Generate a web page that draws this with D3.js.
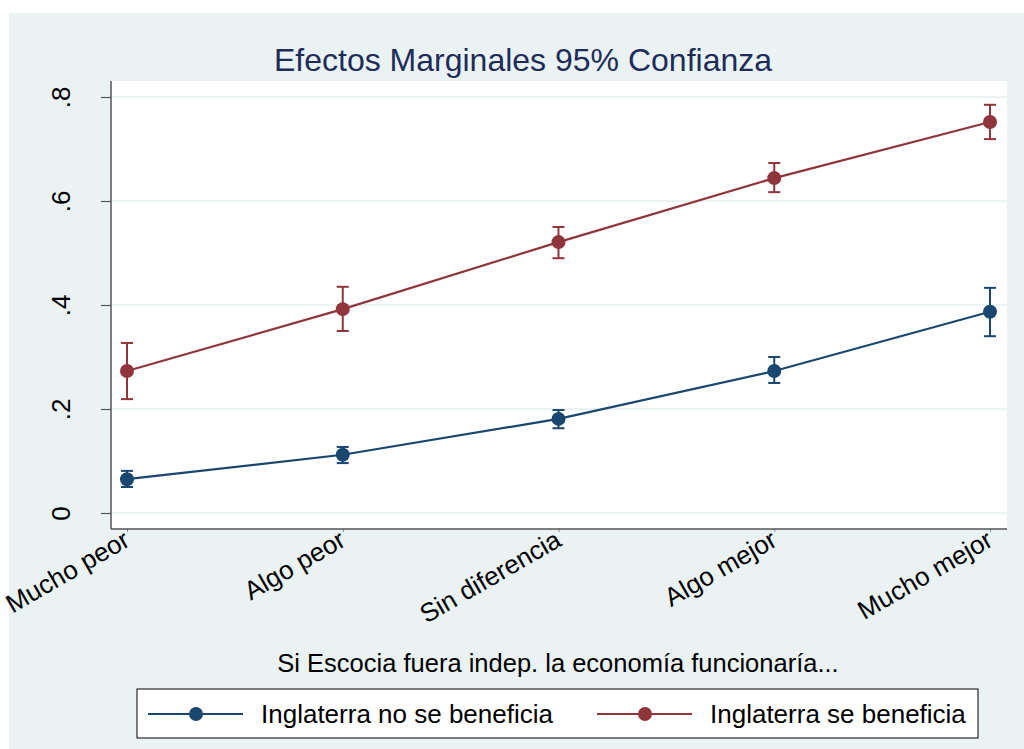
<!DOCTYPE html>
<html>
<head>
<meta charset="utf-8">
<script src="https://cdn.jsdelivr.net/npm/d3@7"></script>
<style>
  html, body { margin: 0; padding: 0; background: #fff; }
  svg { display: block; font-family: Arial, "Liberation Sans", sans-serif; }
</style>
</head>
<body>
<svg id="chart" width="1024" height="749"></svg>
<script>
// categories on the x axis
var categories = ['Mucho peor', 'Algo peor', 'Sin diferencia', 'Algo mejor', 'Mucho mejor'];

// Inglaterra no se beneficia
var noBenefit = [0.065, 0.112, 0.181, 0.273, 0.387];
var noBenefitLo = [0.050, 0.096, 0.163, 0.250, 0.340];
var noBenefitHi = [0.081, 0.127, 0.198, 0.300, 0.433];

// Inglaterra se beneficia
var benefit = [0.273, 0.392, 0.521, 0.644, 0.752];
var benefitLo = [0.219, 0.350, 0.490, 0.617, 0.719];
var benefitHi = [0.327, 0.435, 0.550, 0.673, 0.785];

var yTicks = [0, 0.2, 0.4, 0.6, 0.8];
var yTickLabels = ['0', '.2', '.4', '.6', '.8'];

var seriesNames = ['Inglaterra no se beneficia', 'Inglaterra se beneficia'];
var seriesColors = ['#1a476f', '#90353b'];

var svg = d3.select('#chart');

// outer graph region
svg.append('rect')
  .attr('x', 9).attr('y', 13)
  .attr('width', 1024 - 9).attr('height', 749 - 13)
  .attr('fill', '#eaf2f3');

var plot = { left: 111, right: 1007, top: 81, bottom: 529 };

svg.append('rect')
  .attr('x', plot.left).attr('y', plot.top)
  .attr('width', plot.right - plot.left).attr('height', plot.bottom - plot.top)
  .attr('fill', '#ffffff');

var x = d3.scalePoint()
  .domain(categories)
  .range([127, 990]);

var y = d3.scaleLinear()
  .domain([0, 0.8])
  .range([513, 97]);

// grid lines
svg.append('g')
  .selectAll('line')
  .data(yTicks)
  .enter().append('line')
  .attr('x1', plot.left).attr('x2', plot.right)
  .attr('y1', function (d) { return y(d); })
  .attr('y2', function (d) { return y(d); })
  .attr('stroke', '#eaf2f3')
  .attr('stroke-width', 2);

// y axis
var yAxis = svg.append('g')
  .attr('transform', 'translate(' + plot.left + ',0)')
  .call(d3.axisLeft(y).tickValues(yTicks).tickSize(10).tickPadding(0)
    .tickFormat(function (d, i) { return yTickLabels[i]; }));
yAxis.select('.domain').remove();
yAxis.selectAll('.tick line').attr('stroke', '#555').attr('stroke-width', 1.2);
yAxis.selectAll('.tick text')
  .attr('font-size', 26)
  .attr('fill', '#000')
  .attr('text-anchor', 'middle')
  .attr('transform', 'translate(-41,0) rotate(-90)')
  .attr('x', 0)
  .attr('dy', 0);

svg.append('line')
  .attr('x1', plot.left).attr('x2', plot.left)
  .attr('y1', plot.top).attr('y2', plot.bottom)
  .attr('stroke', '#555').attr('stroke-width', 1.5);

// x axis
var xAxis = svg.append('g')
  .attr('transform', 'translate(0,' + plot.bottom + ')')
  .call(d3.axisBottom(x).tickSize(3).tickPadding(0));
xAxis.select('.domain').remove();
xAxis.selectAll('.tick line').attr('stroke', '#888');
xAxis.selectAll('.tick text')
  .attr('font-size', 26)
  .attr('fill', '#000')
  .attr('text-anchor', 'end')
  .attr('y', 0)
  .attr('dy', 0)
  .attr('transform', 'translate(4,16) rotate(-30)');

svg.append('line')
  .attr('x1', plot.left).attr('x2', plot.right)
  .attr('y1', plot.bottom).attr('y2', plot.bottom)
  .attr('stroke', '#555').attr('stroke-width', 1.5);

// series
var series = [
  { values: noBenefit, lo: noBenefitLo, hi: noBenefitHi, color: seriesColors[0] },
  { values: benefit, lo: benefitLo, hi: benefitHi, color: seriesColors[1] }
];

var line = d3.line()
  .x(function (d, i) { return x(categories[i]); })
  .y(function (d) { return y(d); });

series.forEach(function (s) {
  var g = svg.append('g');
  g.append('path')
    .datum(s.values)
    .attr('d', line)
    .attr('fill', 'none')
    .attr('stroke', s.color)
    .attr('stroke-width', 2.2);

  var caps = g.selectAll('.ci')
    .data(categories)
    .enter().append('g');
  caps.append('line')
    .attr('x1', function (d) { return x(d); })
    .attr('x2', function (d) { return x(d); })
    .attr('y1', function (d, i) { return y(s.lo[i]); })
    .attr('y2', function (d, i) { return y(s.hi[i]); })
    .attr('stroke', s.color).attr('stroke-width', 2);
  [s.lo, s.hi].forEach(function (arr) {
    caps.append('line')
      .attr('x1', function (d) { return x(d) - 6; })
      .attr('x2', function (d) { return x(d) + 6; })
      .attr('y1', function (d, i) { return y(arr[i]); })
      .attr('y2', function (d, i) { return y(arr[i]); })
      .attr('stroke', s.color).attr('stroke-width', 2);
  });

  g.selectAll('circle')
    .data(s.values)
    .enter().append('circle')
    .attr('cx', function (d, i) { return x(categories[i]); })
    .attr('cy', function (d) { return y(d); })
    .attr('r', 7)
    .attr('fill', s.color);
});

// title
svg.append('text')
  .attr('x', 523).attr('y', 71)
  .attr('text-anchor', 'middle')
  .attr('font-size', 32)
  .attr('fill', '#1e2c5a')
  .text('Efectos Marginales 95% Confianza');

// x axis title
svg.append('text')
  .attr('x', 558).attr('y', 672)
  .attr('text-anchor', 'middle')
  .attr('font-size', 25.5)
  .attr('fill', '#000')
  .text('Si Escocia fuera indep. la economía funcionaría...');

// legend
var legend = svg.append('g');
legend.append('rect')
  .attr('x', 137).attr('y', 689)
  .attr('width', 841).attr('height', 49)
  .attr('fill', '#fff')
  .attr('stroke', '#000').attr('stroke-width', 1);

var legendX = [148, 597];
seriesNames.forEach(function (name, i) {
  var lx = legendX[i];
  legend.append('line')
    .attr('x1', lx).attr('x2', lx + 95)
    .attr('y1', 714).attr('y2', 714)
    .attr('stroke', seriesColors[i]).attr('stroke-width', 2.2);
  legend.append('circle')
    .attr('cx', lx + 48).attr('cy', 714).attr('r', 7)
    .attr('fill', seriesColors[i]);
  legend.append('text')
    .attr('x', lx + 113).attr('y', 723)
    .attr('font-size', 26)
    .attr('fill', '#000')
    .text(name);
});
</script>
</body>
</html>
